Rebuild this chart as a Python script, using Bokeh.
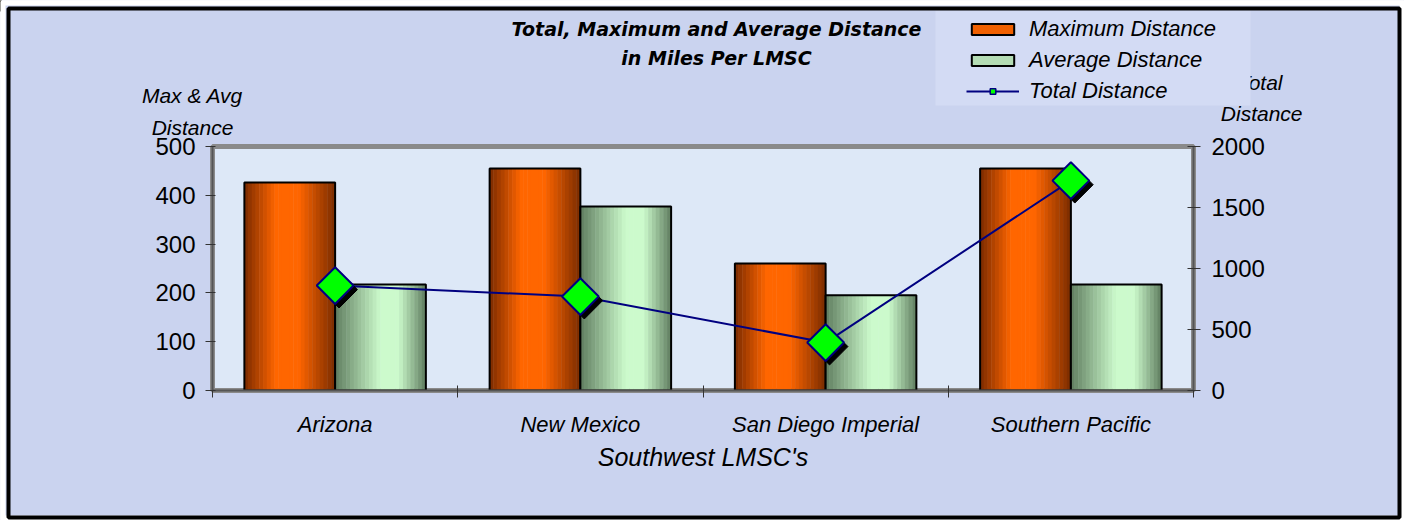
import numpy as np
from bokeh.plotting import figure
from bokeh.models import (Range1d, LinearAxis, FixedTicker, Legend, LegendItem, BoxAnnotation)
from bokeh.core.properties import value
from bokeh.embed import file_html
from bokeh.resources import INLINE

categories = ["Arizona", "New Mexico", "San Diego Imperial", "Southern Pacific"]
max_distance = [426, 455, 260, 455]
avg_distance = [217, 377, 195, 217]
total_distance = [860, 770, 393, 1720]
left_ticks = [0, 100, 200, 300, 400, 500]
right_ticks = [0, 500, 1000, 1500, 2000]
series_names = ["Maximum Distance", "Average Distance", "Total Distance"]
title_lines = ["Total, Maximum and Average Distance", "in Miles Per LMSC"]
left_title = ["Max & Avg", "Distance"]
right_title = ["Total", "Distance"]
x_title = "Southwest LMSC's"

FONT = "Liberation Sans"
W, H = 1404, 520
FL, FR, FT, FB = 212, 1193, 146, 390  # plot-area edges on the page

pos = [i + 0.5 for i in range(len(categories))]  # category centres

# ---------------- main chart ----------------
p = figure(width=W, height=H, x_range=Range1d(0, len(categories)),
           y_range=Range1d(0, 500), output_backend="svg", toolbar_location=None,
           x_axis_location=None, y_axis_location=None,
           min_border_left=FL, min_border_right=W - FR, min_border_top=FT,
           min_border_bottom=H - FB)
p.extra_y_ranges = {"total": Range1d(0, 2000)}
p.xgrid.grid_line_color = None
p.ygrid.grid_line_color = None
p.border_fill_color = "#cad3ef"
p.background_fill_color = "#dde8f7"
p.outline_line_color = "#8a8a8a"
p.outline_line_width = 5

yl = LinearAxis(ticker=FixedTicker(ticks=left_ticks), major_tick_in=3, major_tick_out=7,
                minor_tick_line_color=None, axis_line_color="#555555", axis_line_width=2,
                major_tick_line_color="#333333", major_label_text_font=FONT,
                major_label_text_font_size="24px", major_label_standoff=10,
                major_label_text_color="black")
p.add_layout(yl, "left")
yr = LinearAxis(y_range_name="total", ticker=FixedTicker(ticks=right_ticks), major_tick_in=6,
                major_tick_out=7, minor_tick_line_color=None, axis_line_color="#555555",
                axis_line_width=2, major_tick_line_color="#333333", major_label_text_font=FONT,
                major_label_text_font_size="24px", major_label_standoff=11,
                major_label_text_color="black")
p.add_layout(yr, "right")
bounds = list(range(len(categories) + 1))
xt = LinearAxis(ticker=FixedTicker(ticks=bounds), major_tick_in=5,
                major_tick_out=7, major_label_text_font_size="1px", major_label_text_alpha=0,
                major_label_standoff=0, minor_tick_line_color=None, axis_line_color="#555555",
                axis_line_width=2, major_tick_line_color="#333333")
p.add_layout(xt, "below")
xc = LinearAxis(ticker=FixedTicker(ticks=pos),
                major_label_overrides={x: c for x, c in zip(pos, categories)},
                axis_line_color=None, major_tick_line_color=None, minor_tick_line_color=None,
                major_label_text_font=FONT, major_label_text_font_size="22px",
                major_label_text_font_style="italic", major_label_standoff=8,
                major_label_text_color="black",
                axis_label=x_title, axis_label_text_font=FONT,
                axis_label_text_font_size="25px", axis_label_text_font_style="italic",
                axis_label_standoff=3, axis_label_text_color="black")
p.add_layout(xc, "below")


def hex2rgb(h):
    h = h.lstrip("#")
    return np.array([int(h[i:i + 2], 16) for i in (0, 2, 4)], dtype=float)


def grad_color(stops, t):
    for (t0, c0), (t1, c1) in zip(stops[:-1], stops[1:]):
        if t0 <= t <= t1:
            f = 0 if t1 == t0 else (t - t0) / (t1 - t0)
            c = hex2rgb(c0) * (1 - f) + hex2rgb(c1) * f
            return "#%02x%02x%02x" % tuple(int(round(v)) for v in c)
    return stops[-1][1]


orange_stops = [(0, "#7a2a00"), (0.35, "#ff6600"), (0.6, "#ff6600"), (1, "#7a2c00")]
green_stops = [(0, "#5f7d5f"), (0.5, "#ccfacc"), (0.7, "#ccfacc"), (1, "#5f7d5f")]

BW = 0.37
N = 24
for vals, center, stops in [(max_distance, -BW / 2, orange_stops),
                            (avg_distance, BW / 2, green_stops)]:
    for i in range(N):
        t = (i + 0.5) / N
        off = center - BW / 2 + t * BW
        p.vbar(x=[x + off for x in pos], top=vals, bottom=0, width=BW / N + 0.002,
               fill_color=grad_color(stops, t), line_color=None)
    p.vbar(x=[x + center for x in pos], top=vals, bottom=0, width=BW,
           fill_color=None, line_color="black", line_width=2)

p.line(x=pos, y=total_distance, y_range_name="total", line_color="#000080", line_width=2)
p.scatter(x=[x + 0.016 for x in pos], y=[t - 33 for t in total_distance],
          y_range_name="total", marker="square", size=26, angle=np.pi / 4,
          fill_color="black", line_color="black")
p.scatter(x=pos, y=total_distance, y_range_name="total", marker="square", size=26,
          angle=np.pi / 4, fill_color="#00ff00", line_color="#000080", line_width=2)

# ---------------- transparent overlay (separate root) for titles, legend, frame ----------------
q = figure(width=W, height=H, x_range=Range1d(0, W), y_range=Range1d(H, 0),
           output_backend="svg", toolbar_location=None, x_axis_location=None,
           y_axis_location=None, min_border=0, border_fill_color=None,
           background_fill_color=None, outline_line_color=None)
q.xgrid.grid_line_color = None
q.ygrid.grid_line_color = None
q.styles = {"position": "absolute", "left": "0px", "top": "0px"}

q.text(x=[716, 716], y=[28, 57], text=title_lines, text_font=value("DejaVu Sans"),
       text_font_size="19px", text_font_style="bold italic", text_align="center",
       text_baseline="middle", text_color="black")
q.text(x=[192, 192], y=[95, 127], text=left_title, text_font=value(FONT),
       text_font_size="21px", text_font_style="italic", text_align="center",
       text_baseline="middle", text_color="black")
q.text(x=[1282, 1302], y=[82, 113], text=right_title, text_font=value(FONT),
       text_font_size="21px", text_font_style="italic", text_align="right",
       text_baseline="middle", text_color="black")

# lighter legend panel (covers part of "Total" as in the original)
q.add_layout(BoxAnnotation(left=935, right=1250, top=10, bottom=105, fill_color="#d3dbf4",
                           fill_alpha=1, line_color=None))
# outer frame
q.add_layout(BoxAnnotation(left=2, right=W - 2, top=2, bottom=H - 2, fill_color=None,
                           line_color="white", line_alpha=1, line_width=6))
q.add_layout(BoxAnnotation(left=8, right=1399, top=8, bottom=H - 3, fill_color=None,
                           line_color="black", line_alpha=1, line_width=4))

# legend proxies (kept outside the visible range; only their legend swatches show)
lg_max = q.vbar(x=[-50], top=[10], bottom=[0], width=5, fill_color="#f06000",
                line_color="black", line_width=2)
lg_avg = q.vbar(x=[-50], top=[10], bottom=[0], width=5, fill_color="#b4dcb4",
                line_color="black", line_width=2)
lg_line = q.line(x=[-60, -50], y=[10, 10], line_color="#000080", line_width=2)
lg_mk = q.scatter(x=[-50], y=[10], marker="square", size=10, angle=np.pi / 4,
                  fill_color="#00ff00", line_color="#000080", line_width=1.5)

legend = Legend(items=[
    LegendItem(label=series_names[0], renderers=[lg_max]),
    LegendItem(label=series_names[1], renderers=[lg_avg]),
    LegendItem(label=series_names[2], renderers=[lg_line, lg_mk]),
], location=(966, H - 104), background_fill_alpha=0, border_line_color=None,
    label_text_font=FONT, label_text_font_style="italic", label_text_font_size="22px",
    label_text_color="black", glyph_width=53, glyph_height=14, label_standoff=10,
    spacing=5, padding=4, margin=0)
q.add_layout(legend)

open("out.html", "w").write(file_html([p, q], INLINE))
